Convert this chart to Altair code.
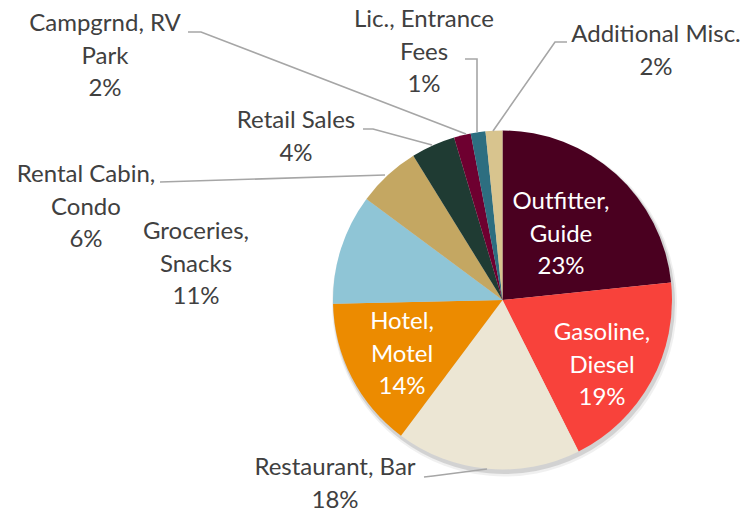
import altair as alt
import pandas as pd

# ---- data ----
categories = ["Outfitter, Guide", "Gasoline, Diesel", "Restaurant, Bar", "Hotel, Motel",
              "Groceries, Snacks", "Rental Cabin, Condo", "Retail Sales",
              "Campgrnd, RV Park", "Lic., Entrance Fees", "Additional Misc."]
shares = [23.3, 19.2, 17.6, 14.4, 10.5, 6.0, 4.2, 1.6, 1.4, 1.6]
colors = ["#4a0020", "#f8423b", "#ece6d4", "#ec8b00", "#8fc5d6",
          "#c4a762", "#1f3b33", "#6e0030", "#2d6e80", "#d8c48e"]
label_lines = [["Outfitter,", "Guide"], ["Gasoline,", "Diesel"], ["Restaurant, Bar"],
               ["Hotel,", "Motel"], ["Groceries,", "Snacks"], ["Rental Cabin,", "Condo"],
               ["Retail Sales"], ["Campgrnd, RV", "Park"], ["Lic., Entrance", "Fees"],
               ["Additional Misc."]]

# ---- layout (pixel positions of labels' first line / leader lines, page coords) ----
M = 8
CX, CY, R = 502.5 - M, 300 - M, 169.5
label_pos = [(561, 202), (602, 333), (335, 468), (402, 322), (196, 232),
             (86, 175), (296, 121), (105, 24), (424, 20), (656, 35)]
inside = [True, True, False, True, False, False, False, False, False, False]
leaders = {
    "Campgrnd, RV Park": [(188, 32), (201, 32), (466, 134)],
    "Lic., Entrance Fees": [(465, 59), (477, 59), (477, 132)],
    "Additional Misc.": [(567, 42), (555, 42), (493, 131)],
    "Retail Sales": [(363, 129), (373, 129), (432, 145)],
    "Rental Cabin, Condo": [(160, 182), (385, 175)],
    "Restaurant, Bar": [(424, 477), (433, 476), (487, 469)],
}

total = sum(shares)
pie_df = pd.DataFrame({"category": categories, "share": shares,
                       "order": list(range(len(categories)))})

lab_rows = []
for i, c in enumerate(categories):
    pct = f"{round(shares[i] / total * 100)}%"
    lab_rows.append({"category": c, "text": label_lines[i] + [pct],
                     "x": label_pos[i][0] - M, "y": label_pos[i][1] - M,
                     "inside": inside[i]})
lab_df = pd.DataFrame(lab_rows)

line_rows = []
for c, pts in leaders.items():
    for j, (px, py) in enumerate(pts):
        line_rows.append({"category": c, "x": px - M, "y": py - M, "k": j})
line_df = pd.DataFrame(line_rows)

color_scale = alt.Scale(domain=categories, range=colors)

shadow = alt.Chart(pie_df).mark_arc(radius=R + 1.5, color="#000000", opacity=0.12).encode(
    theta=alt.Theta("share:Q", stack=True),
    order=alt.Order("order:Q"),
    x=alt.value(CX + 1.5), y=alt.value(CY + 3),
)
shadow2 = alt.Chart(pie_df).mark_arc(radius=R + 3, color="#000000", opacity=0.06).encode(
    theta=alt.Theta("share:Q", stack=True),
    order=alt.Order("order:Q"),
    x=alt.value(CX + 2), y=alt.value(CY + 4),
)
pie = alt.Chart(pie_df).mark_arc(radius=R).encode(
    theta=alt.Theta("share:Q", stack=True),
    order=alt.Order("order:Q"),
    color=alt.Color("category:N", scale=color_scale, legend=None),
    x=alt.value(CX), y=alt.value(CY),
)

lines = alt.Chart(line_df).mark_line(color="#a6a6a6", strokeWidth=1.6).encode(
    x=alt.X("x:Q", scale=None, axis=None),
    y=alt.Y("y:Q", scale=None, axis=None),
    detail="category:N",
    order="k:Q",
)

texts = alt.Chart(lab_df).mark_text(
    font="Lato", fontSize=24, lineHeight=32.5, align="center", baseline="middle"
).encode(
    x=alt.X("x:Q", scale=None, axis=None),
    y=alt.Y("y:Q", scale=None, axis=None),
    text="text",
    color=alt.condition("datum.inside", alt.value("#ffffff"), alt.value("#404040")),
)

chart = alt.layer(shadow2, shadow, pie, lines, texts).properties(
    width=735, height=506, padding=0, autosize="none",
    background="#ffffff",
).configure_view(stroke=None)

chart.save("out.html", embed_options={"renderer": "svg", "actions": False})
